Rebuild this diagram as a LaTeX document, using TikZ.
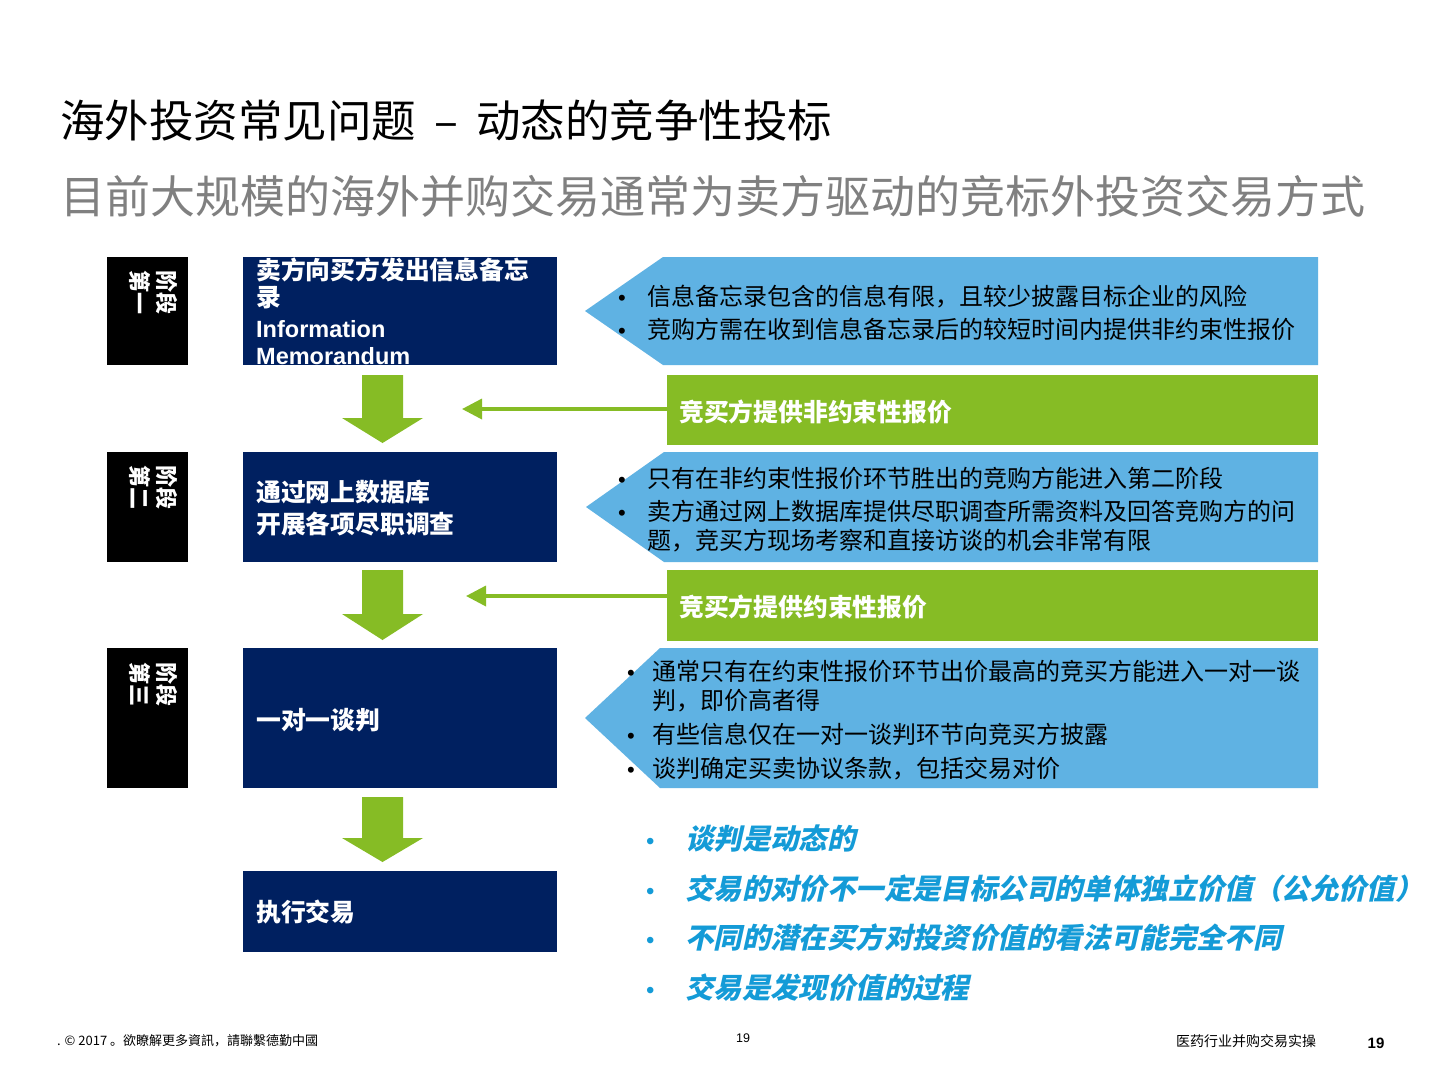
\documentclass[tikz,border=0pt]{standalone}
\usepackage{fontspec}
\setmainfont{Noto Sans CJK SC}
\newfontfamily\arialfont{Liberation Sans}
\newfontfamily\cjkslant{Noto Sans CJK SC}[FakeSlant=0.22]
\usetikzlibrary{arrows.meta}
\definecolor{navy}{RGB}{0,32,96}
\definecolor{lblue}{RGB}{95,178,227}
\definecolor{dgreen}{RGB}{134,188,37}
\definecolor{itblue}{RGB}{20,155,215}
\definecolor{subgray}{RGB}{128,128,128}
\begin{document}
\begin{tikzpicture}[x=1pt,y=-1pt,
  ln/.style={anchor=base west, inner sep=0pt},
  stagebox/.style={fill=black, minimum width=81pt, anchor=north west, inner sep=0pt},
  stagelbl/.style={rotate=-90, anchor=north west, align=left, inner sep=0pt, text=white, font=\fontsize{22}{27}\selectfont\bfseries},
  navybox/.style={fill=navy, minimum width=314pt, anchor=north west, inner sep=0pt},
  greenbox/.style={fill=dgreen, minimum width=651pt, anchor=north west, inner sep=0pt},
  boxtxt/.style={ln, text=white, font=\fontsize{24.8}{28}\selectfont\bfseries},
  boxlat/.style={ln, text=white, font=\arialfont\bfseries\fontsize{23.5}{26}\selectfont},
  bultxt/.style={ln, text=black, font=\fontsize{24}{28}\selectfont},
  bul/.style={ln, text=black, font=\arialfont\fontsize{22}{26}\selectfont},
  itbul/.style={ln, text=itblue, font=\arialfont\fontsize{24}{28}\selectfont},
  ittxt/.style={ln, text=itblue, font=\cjkslant\bfseries\fontsize{28.4}{32}\selectfont},
  blockarrow/.style={fill=dgreen},
  pentagon/.style={fill=lblue},
  larrow/.style={draw=dgreen, line width=3.5pt, -{Triangle[length=20pt,width=20pt]}},
  foot/.style={ln, text=black, font=\fontsize{13}{15}\selectfont}
]
\fill[white] (0,0) rectangle (1440,1080);
\useasboundingbox (0,0) rectangle (1440,1080);

% title
\node[ln, font=\fontsize{44.5}{50}\selectfont] (title) at (60,137) {海外投资常见问题\hspace{18pt}–\hspace{18pt}动态的竞争性投标};
\node[ln, text=subgray, font=\fontsize{45}{50}\selectfont] (subtitle) at (60,213) {目前大规模的海外并购交易通常为卖方驱动的竞标外投资交易方式};

% stage boxes
\node[stagebox, minimum height=108pt] (s1) at (107,257) {};
\node[stagebox, minimum height=110pt] (s2) at (107,452) {};
\node[stagebox, minimum height=140pt] (s3) at (107,648) {};
\node[stagelbl] (s1l) at (178,270) {阶段\\第一};
\node[stagelbl] (s2l) at (178,465) {阶段\\第二};
\node[stagelbl] (s3l) at (178,662) {阶段\\第三};

% navy boxes
\node[navybox, minimum height=108pt] (n1) at (243,257) {};
\node[navybox, minimum height=110pt] (n2) at (243,452) {};
\node[navybox, minimum height=140pt] (n3) at (243,648) {};
\node[navybox, minimum height=81pt] (n4) at (243,871) {};
\node[boxtxt] (n1a) at (256,279) {卖方向买方发出信息备忘};
\node[boxtxt] (n1b) at (256,306) {录};
\node[boxlat] (n1c) at (256,337) {Information};
\node[boxlat] (n1d) at (256,364) {Memorandum};
\node[boxtxt] (n2a) at (256,501) {通过网上数据库};
\node[boxtxt] (n2b) at (256,533) {开展各项尽职调查};
\node[boxtxt] (n3a) at (256,729) {一对一谈判};
\node[boxtxt] (n4a) at (256,921) {执行交易};

% down block arrows
\fill[blockarrow] (362,375) -- (403,375) -- (403,418) -- (423,418) -- (382.5,443) -- (342,418) -- (362,418) -- cycle;
\fill[blockarrow] (362,570) -- (403,570) -- (403,614) -- (423,614) -- (382.5,640) -- (342,614) -- (362,614) -- cycle;
\fill[blockarrow] (362,797) -- (403,797) -- (403,838) -- (423,838) -- (382.5,862) -- (342,838) -- (362,838) -- cycle;

% blue pentagons
\fill[pentagon] (585,311) -- (663,257) -- (1318,257) -- (1318,365) -- (663,365) -- cycle;
\fill[pentagon] (586,507) -- (664,452) -- (1318,452) -- (1318,562) -- (664,562) -- cycle;
\fill[pentagon] (585,718) -- (660,648) -- (1318,648) -- (1318,788) -- (660,788) -- cycle;

\node[bul] (b1a) at (618,305) {•};
\node[bultxt] (t1a) at (647,305) {信息备忘录包含的信息有限，且较少披露目标企业的风险};
\node[bul] (b1b) at (618,338) {•};
\node[bultxt] (t1b) at (647,338) {竞购方需在收到信息备忘录后的较短时间内提供非约束性报价};

\node[bul] (b2a) at (618,487) {•};
\node[bultxt] (t2a) at (647,487) {只有在非约束性报价环节胜出的竞购方能进入第二阶段};
\node[bul] (b2b) at (618,520) {•};
\node[bultxt] (t2b) at (647,520) {卖方通过网上数据库提供尽职调查所需资料及回答竞购方的问};
\node[bultxt] (t2c) at (647,549) {题，竞买方现场考察和直接访谈的机会非常有限};

\node[bul] (b3a) at (627,680) {•};
\node[bultxt] (t3a) at (652,680) {通常只有在约束性报价环节出价最高的竞买方能进入一对一谈};
\node[bultxt] (t3b) at (652,709) {判，即价高者得};
\node[bul] (b3b) at (627,743) {•};
\node[bultxt] (t3c) at (652,743) {有些信息仅在一对一谈判环节向竞买方披露};
\node[bul] (b3c) at (627,777) {•};
\node[bultxt] (t3d) at (652,777) {谈判确定买卖协议条款，包括交易对价};

% green boxes and arrows
\node[greenbox, minimum height=70pt] (g1) at (667,375) {};
\node[greenbox, minimum height=71pt] (g2) at (667,570) {};
\node[boxtxt] (g1t) at (679,421) {竞买方提供非约束性报价};
\node[boxtxt] (g2t) at (679,616) {竞买方提供约束性报价};
\coordinate (a1) at (462,409);
\coordinate (a2) at (466,596);
\draw[larrow] (g1.west |- a1) -- (a1);
\draw[larrow] (g2.west |- a2) -- (a2);

% italic list
\node[itbul] (ib1) at (646,849) {•};
\node[ittxt] (it1) at (685,849) {谈判是动态的};
\node[itbul] (ib2) at (646,899) {•};
\node[ittxt] (it2) at (685,899) {交易的对价不一定是目标公司的单体独立价值（公允价值）};
\node[itbul] (ib3) at (646,948) {•};
\node[ittxt] (it3) at (685,948) {不同的潜在买方对投资价值的看法可能完全不同};
\node[itbul] (ib4) at (646,998) {•};
\node[ittxt] (it4) at (685,998) {交易是发现价值的过程};

% footer
\node[foot] (f1) at (57,1045) {. © 2017 。欲瞭解更多資訊，請聯繫德勤中國};
\node[anchor=base, inner sep=0pt, font=\arialfont\fontsize{12.5}{14}\selectfont] (f2) at (743,1042) {19};
\node[ln, text=black, font=\fontsize{14}{16}\selectfont] (f3) at (1176,1046) {医药行业并购交易实操};
\node[anchor=base, inner sep=0pt, font=\arialfont\bfseries\fontsize{15}{17}\selectfont] (f4) at (1376,1048) {19};
\end{tikzpicture}
\end{document}
